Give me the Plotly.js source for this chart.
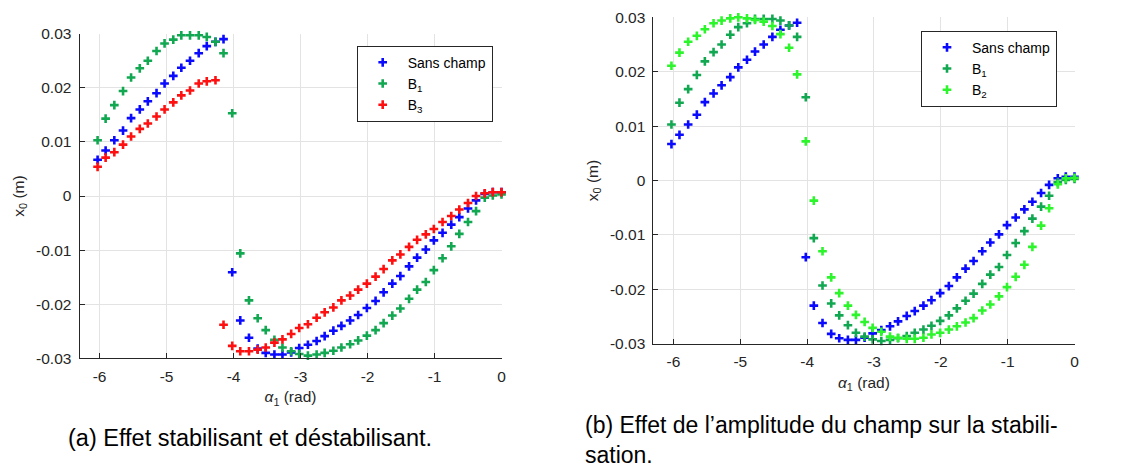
<!DOCTYPE html>
<html>
<head>
<meta charset="utf-8">
<script src="https://cdn.plot.ly/plotly-3.0.1.min.js"></script>
<style>html,body{margin:0;padding:0;background:#fff;}#chart{width:1127px;height:468px;}</style>
</head>
<body>
<div id="chart"></div>
<script>
// alpha_1 (rad) sample positions
const alpha = [-6.03,-5.91,-5.78,-5.65,-5.53,-5.40,-5.28,-5.15,-5.03,-4.90,-4.78,-4.65,-4.52,-4.40,-4.27,-4.15,
  -4.02,-3.90,-3.77,-3.64,-3.52,-3.39,-3.27,-3.14,-3.02,-2.89,-2.76,-2.64,-2.51,-2.39,-2.26,-2.14,
  -2.01,-1.88,-1.76,-1.63,-1.51,-1.38,-1.26,-1.13,-1.01,-0.88,-0.75,-0.63,-0.50,-0.38,-0.25,-0.13,0.00];

// x_0 (m) — Sans champ
const sansChamp = [0.0067,0.0084,0.0103,0.0121,0.0144,0.0160,0.0175,0.0190,0.0208,0.0222,0.0237,0.0250,0.0264,0.0277,0.0285,0.0290,
  -0.0141,-0.0230,-0.0262,-0.0282,-0.0290,-0.0293,-0.0293,-0.0289,-0.0281,-0.0275,-0.0268,-0.0259,-0.0249,-0.0240,-0.0230,-0.0220,
  -0.0207,-0.0194,-0.0178,-0.0162,-0.0148,-0.0130,-0.0114,-0.0099,-0.0082,-0.0068,-0.0053,-0.0039,-0.0023,-0.0008,0.0004,0.0007,0.0007];

// x_0 (m) — B1
const b1 = [0.0103,0.0143,0.0168,0.0194,0.0219,0.0236,0.0250,0.0268,0.0282,0.0289,0.0297,0.0297,0.0297,0.0294,0.0285,0.0264,
  0.0153,-0.0106,-0.0193,-0.0226,-0.0248,-0.0266,-0.0280,-0.0287,-0.0292,-0.0295,-0.0293,-0.0290,-0.0286,-0.0280,-0.0274,-0.0267,
  -0.0258,-0.0248,-0.0235,-0.0221,-0.0208,-0.0190,-0.0173,-0.0159,-0.0137,-0.0115,-0.0093,-0.0070,-0.0048,-0.0028,-0.0003,0.0001,0.0003];

// x_0 (m) — B3
const b3 = [0.0054,0.0071,0.0081,0.0095,0.0110,0.0124,0.0134,0.0147,0.0160,0.0173,0.0186,0.0195,0.0208,0.0212,0.0214,-0.0238,
  -0.0277,-0.0287,-0.0287,-0.0284,-0.0280,-0.0271,-0.0265,-0.0255,-0.0244,-0.0237,-0.0225,-0.0215,-0.0206,-0.0193,-0.0184,-0.0173,
  -0.0162,-0.0149,-0.0135,-0.0119,-0.0108,-0.0094,-0.0081,-0.0071,-0.0061,-0.0048,-0.0037,-0.0025,-0.0013,0.0000,0.0005,0.0007,0.0007];

// x_0 (m) — B2
const b2 = [0.0211,0.0235,0.0255,0.0266,0.0278,0.0289,0.0294,0.0298,0.0300,0.0298,0.0295,0.0292,0.0284,0.0269,0.0244,0.0195,
  0.0072,-0.0037,-0.0130,-0.0178,-0.0207,-0.0230,-0.0247,-0.0260,-0.0271,-0.0278,-0.0287,-0.0289,-0.0291,-0.0291,-0.0289,-0.0283,
  -0.0280,-0.0274,-0.0268,-0.0261,-0.0253,-0.0239,-0.0228,-0.0213,-0.0196,-0.0177,-0.0155,-0.0122,-0.0083,-0.0051,-0.0007,0.0004,0.0005];

const xTickVals = [-6,-5,-4,-3,-2,-1,0];
const xTickText = ['-6','-5','-4','-3','-2','-1','0'];
const yTickVals = [-0.03,-0.02,-0.01,0,0.01,0.02,0.03];
const yTickText = ['-0.03','-0.02','-0.01','0','0.01','0.02','0.03'];

const names = {sans:'Sans champ', b1:'B<sub>1</sub>', b2:'B<sub>2</sub>', b3:'B<sub>3</sub>'};
const captionA = '(a) Effet stabilisant et déstabilisant.';
const captionB = '(b) Effet de l’amplitude du champ sur la stabili-<br>sation.';

const cBlue = '#0a0aff', cGreen = '#12a852', cRed = '#ff1010', cLime = '#2cf52c';

function tr(y, name, color, xa, ya, leg) {
  return {x: alpha, y: y, name: name, type: 'scatter', mode: 'markers', xaxis: xa, yaxis: ya, legend: leg,
    cliponaxis: false,
    marker: {symbol: 'cross-thin', size: 6.2, color: color, line: {color: color, width: 2.6}}};
}

const data = [
  tr(sansChamp, names.sans, cBlue, 'x', 'y', 'legend'),
  tr(b1, names.b1, cGreen, 'x', 'y', 'legend'),
  tr(b3, names.b3, cRed, 'x', 'y', 'legend'),
  tr(sansChamp, names.sans, cBlue, 'x2', 'y2', 'legend2'),
  tr(b1, names.b1, cGreen, 'x2', 'y2', 'legend2'),
  tr(b2, names.b2, cLime, 'x2', 'y2', 'legend2')
];

const font = 'Liberation Sans, Arial, Helvetica, sans-serif';
const axCol = '#262626';
function xa(domain, anchor) {
  return {domain: domain, anchor: anchor, range: [-6.3, 0], tickvals: xTickVals, ticktext: xTickText,
    showgrid: true, gridcolor: '#e3e3e3', zeroline: false, showline: true, linecolor: axCol, linewidth: 1,
    ticks: 'inside', ticklen: 5, tickcolor: axCol, tickfont: {family: font, size: 15.5, color: axCol},
    ticklabelstandoff: 4, automargin: false,
    title: {text: '<i>α</i><sub>1</sub> (rad)', font: {family: font, size: 15.5, color: axCol}, standoff: 7}};
}
function ya(domain, anchor) {
  return {domain: domain, anchor: anchor, range: [-0.03, 0.03], tickvals: yTickVals, ticktext: yTickText,
    showgrid: true, gridcolor: '#e3e3e3', zeroline: false, showline: true, linecolor: axCol, linewidth: 1,
    ticks: 'inside', ticklen: 5, tickcolor: axCol, tickfont: {family: font, size: 15.5, color: axCol},
    ticklabelstandoff: 4, automargin: false,
    title: {text: 'x<sub>0</sub> (m)', font: {family: font, size: 15.5, color: axCol}, standoff: 7}};
}
function leg(x, y) {
  return {x: x, y: y, xanchor: 'left', yanchor: 'top', bgcolor: '#ffffff', bordercolor: axCol, borderwidth: 1,
    font: {family: font, size: 14, color: '#000'}, tracegroupgap: 0, itemwidth: 40};
}

const layout = {
  width: 1127, height: 468, autosize: false,
  margin: {l: 0, r: 0, t: 0, b: 0},
  paper_bgcolor: '#fff', plot_bgcolor: '#fff',
  font: {family: font},
  showlegend: true,
  xaxis: xa([79.5/1127, 501.5/1127], 'y'),
  yaxis: ya([1 - 358.3/468, 1 - 33.7/468], 'x'),
  xaxis2: xa([653.4/1127, 1074.5/1127], 'y2'),
  yaxis2: ya([1 - 343.7/468, 1 - 17.3/468], 'x2'),
  legend: leg(356.7/1127, 1 - 45.7/468),
  legend2: leg(921/1127, 1 - 30.7/468),
  annotations: [
    {text: captionA, xref: 'paper', yref: 'paper', x: 250/1127, y: 1 - 438/468, xanchor: 'center', yanchor: 'middle',
      showarrow: false, font: {family: font, size: 23.5, color: '#000'}},
    {text: captionB, xref: 'paper', yref: 'paper', x: 583/1127, y: 1 - 440/468, xanchor: 'left', yanchor: 'middle',
      align: 'left', showarrow: false, font: {family: font, size: 23, color: '#000'}}
  ]
};

Plotly.newPlot('chart', data, layout, {displayModeBar: false, staticPlot: true});
</script>
</body>
</html>
